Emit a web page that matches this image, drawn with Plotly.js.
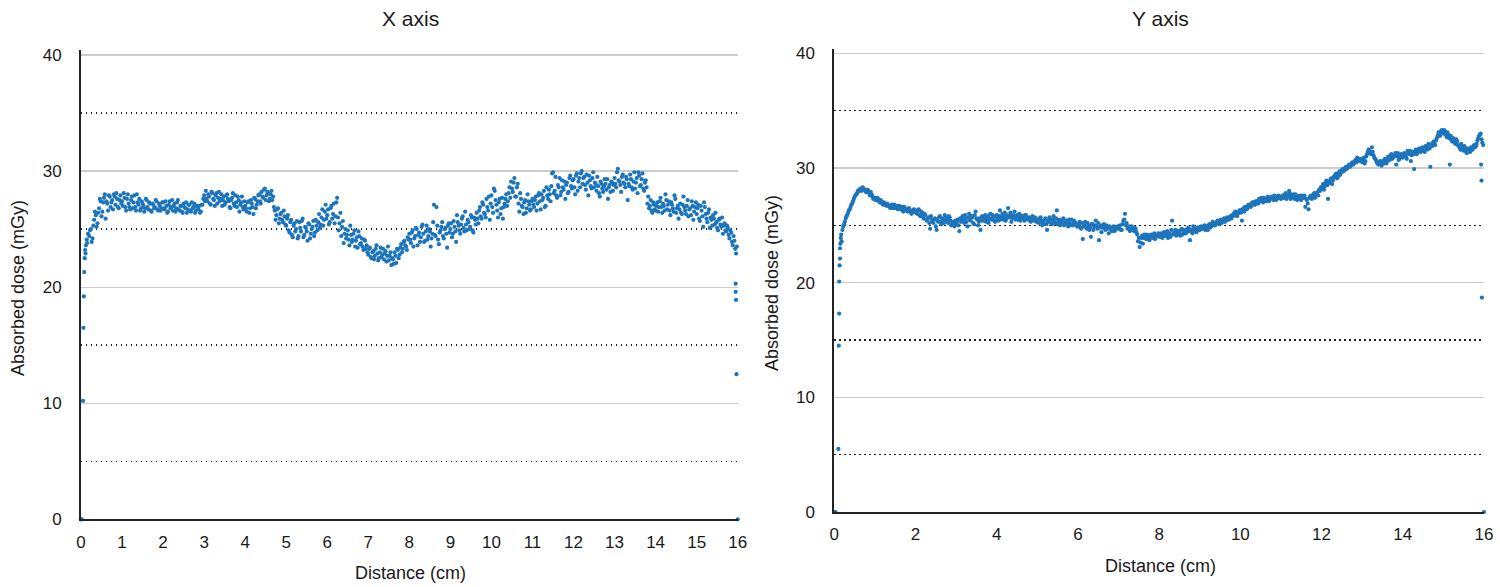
<!DOCTYPE html>
<html>
<head>
<meta charset="utf-8">
<script src="https://cdn.plot.ly/plotly-3.0.1.min.js"></script>
<style>
  html, body { margin: 0; padding: 0; background: #fff; }
  #chart { width: 1500px; height: 587px; }
</style>
</head>
<body>
<div id="chart"></div>
<script>
// sampling grid of the main profiles (cm); the second reading is offset by half a step
var startCm = 0.2;
var startCm2 = 0.22;
var stepCm = 0.04;

// X axis profile: steep build-up / fall-off points at the two edges
var xEdgeDist = [0, 0.02, 0.05, 0.06, 0.07, 0.08, 0.09, 0.1, 0.11, 0.12, 0.14, 0.15, 0.17,
                 15.95, 15.95, 15.96, 15.97, 16];
var xEdgeDose = [0, 0, 10.2, 16.5, 19.2, 21.3, 22.5, 23.2, 22.9, 23.6, 24.1, 23.8, 24.6,
                 20.3, 19.6, 18.9, 12.5, 0];

// X axis profile, 0.20 .. 15.96 cm every 0.04 cm
var xDose = [
  24.4, 25.0, 24.2, 25.8, 26.2, 25.5, 26.8, 27.4, 26.5, 27.7, 25.9, 27.2, 27.9, 26.9, 27.5, 28.0, 27.1, 27.6, 26.8, 27.9,
  27.4, 28.1, 26.9, 27.6, 27.2, 26.7, 27.8, 27.3, 26.9, 28.0, 27.1, 26.6, 27.4, 27.0, 26.8, 27.5, 26.7, 27.2, 26.5, 27.1, 26.9, 27.4, 26.6, 27.0, 26.8,
  27.3, 26.7, 27.0, 26.5, 27.4, 26.9, 26.6, 27.2, 26.8, 27.5, 26.6, 27.0, 26.4, 26.9, 27.3, 26.7, 27.1, 26.5, 26.8, 27.2, 26.6, 26.9, 27.0, 26.5, 27.1,
  27.9, 28.3, 27.4, 27.8, 27.1, 28.1, 27.5, 27.9, 27.2, 28.2, 27.6, 27.0, 27.8, 27.3, 28.0, 27.4, 26.8, 27.7, 27.2, 27.9, 26.9, 27.5, 27.1, 27.8, 26.7,
  27.0, 26.5, 27.4, 26.8, 27.2, 26.3, 27.6, 27.1, 27.9, 27.4, 28.2, 27.7, 28.5, 27.9, 28.1, 27.6, 28.3, 27.8, 26.6, 26.2, 26.8, 25.9, 26.4, 25.6, 26.1,
  25.3, 26.2, 24.7, 25.8, 24.3, 25.5, 25.0, 24.2, 25.6, 24.8, 25.9, 24.5, 25.1, 24.0, 25.4, 24.6, 25.2, 24.4, 25.8, 24.9, 26.3, 25.4, 26.7, 25.8, 27.1,
  26.2, 25.4, 26.8, 25.9, 27.2, 26.1, 27.7, 24.9, 26.4, 25.2, 23.8, 25.0, 24.5, 24.1, 25.3, 23.9, 24.6, 23.5, 24.3, 24.8, 23.7, 24.2, 23.2, 24.0, 23.6,
  22.8, 23.4, 22.5, 23.1, 22.7, 23.6, 22.3, 23.0, 22.6, 23.3, 22.9, 22.2, 23.5, 22.7, 21.9, 22.4, 23.0, 22.1, 23.2, 22.8, 23.7, 23.3, 24.0, 23.5, 24.3,
  24.6, 23.8, 24.9, 24.2, 25.1, 23.6, 24.7, 24.3, 25.4, 23.9, 24.8, 24.1, 25.0, 23.5, 24.6, 27.1, 24.4, 25.3, 23.7, 24.9, 25.6, 24.2, 25.1, 23.4, 25.5,
  25.0, 24.3, 25.7, 24.8, 26.2, 25.3, 24.6, 25.9, 25.1, 26.5, 24.9, 25.6, 25.2, 26.0, 24.7, 25.8, 26.4, 25.5, 26.9, 25.9, 27.1, 26.3, 27.6, 26.6, 25.8,
  27.9, 26.4, 28.3, 27.1, 26.0, 27.6, 26.8, 25.9, 27.2, 28.0, 27.4, 28.6, 29.1, 28.2, 29.4, 27.8, 28.9, 26.5, 27.6, 26.9, 27.3, 26.4, 28.0, 27.1, 26.7,
  27.6, 26.9, 27.8, 27.2, 28.1, 26.7, 27.5, 28.3, 27.0, 27.9, 28.4, 27.4, 29.8, 28.1, 29.5, 27.7, 28.6, 27.9, 29.2, 28.4, 27.6, 29.0, 28.2, 29.6, 28.5,
  29.3, 28.0, 29.8, 29.1, 28.6, 30.0, 29.4, 28.8, 29.7, 27.9, 29.2, 28.5, 29.9, 29.0, 28.3, 28.7, 27.8, 28.9, 28.2, 29.3, 28.4, 27.6, 28.8, 29.1, 28.3,
  29.4, 28.6, 30.2, 29.1, 28.2, 29.7, 28.9, 29.5, 27.5, 28.7, 29.3, 28.4, 29.9, 29.0, 28.1, 29.6, 28.8, 29.8, 28.3, 29.2, 27.2, 26.8, 27.5, 26.4, 27.1,
  26.6, 27.3, 26.9, 27.7, 26.4, 27.0, 28.0, 26.7, 27.4, 26.2, 27.1, 26.5, 27.6, 26.8, 25.9, 27.2, 26.3, 27.8, 26.6, 27.0, 26.1, 26.8, 27.4, 25.8, 26.9,
  26.3, 27.1, 25.7, 26.6, 25.2, 26.9, 25.9, 26.4, 25.1, 25.8, 26.2, 25.4, 25.6, 24.9, 25.9, 25.2, 24.6, 25.5, 24.8, 25.1, 24.2, 24.7, 23.6, 24.0, 22.9
];

// X axis profile, second reading, 0.22 .. 15.98 cm every 0.04 cm
var xDose2 = [
  24.9, 23.9, 25.3, 26.5, 25.2, 26.4, 27.6, 26.1, 27.3, 28.0, 27.4, 26.6, 27.8, 27.3, 26.7, 27.8, 28.1, 26.9, 27.5, 27.2,
  27.0, 27.7, 26.6, 28.0, 26.9, 27.5, 26.8, 27.9, 26.6, 27.3, 27.6, 26.8, 27.2, 26.5, 27.6, 26.9, 27.3, 26.6, 27.2, 26.8, 27.5, 26.7, 27.2, 26.6, 27.3,
  26.8, 27.4, 26.4, 27.1, 26.8, 27.5, 27.0, 26.5, 27.3, 26.7, 27.0, 26.5, 27.2, 26.8, 26.4, 27.1, 26.6, 27.3, 26.9, 26.4, 27.0, 26.7, 26.4, 27.1, 27.6,
  27.4, 27.6, 28.0, 27.2, 28.2, 27.6, 27.0, 28.1, 27.7, 27.4, 28.0, 27.5, 27.1, 27.9, 27.6, 26.9, 27.5, 28.1, 27.0, 27.3, 27.8, 26.5, 27.3, 26.9, 27.4,
  26.8, 27.3, 26.4, 27.5, 26.9, 27.7, 26.8, 27.4, 28.0, 27.2, 27.8, 28.4, 27.5, 28.2, 27.4, 28.0, 27.5, 26.9, 25.8, 26.7, 25.5, 26.3, 25.8, 26.6, 25.4,
  25.9, 24.9, 25.6, 24.5, 25.3, 24.8, 25.7, 24.4, 25.1, 25.7, 24.3, 25.2, 24.8, 25.5, 24.2, 25.0, 25.7, 24.7, 25.3, 25.6, 25.1, 26.0, 25.3, 26.5, 25.9,
  26.7, 25.6, 27.0, 26.3, 25.5, 27.3, 26.0, 25.5, 24.4, 25.7, 24.6, 24.2, 24.9, 23.6, 24.5, 24.1, 24.9, 24.0, 23.4, 24.4, 23.8, 23.5, 24.1, 23.3, 23.0,
  23.3, 22.6, 23.0, 22.4, 23.3, 22.9, 22.5, 23.4, 22.8, 22.4, 23.1, 22.7, 22.3, 23.0, 22.5, 22.0, 22.7, 23.3, 22.5, 23.4, 23.0, 23.9, 23.6, 23.2, 24.1,
  24.1, 24.7, 23.5, 24.4, 25.0, 24.5, 23.9, 25.2, 24.6, 24.0, 25.3, 24.4, 24.8, 24.2, 25.6, 24.5, 26.9, 24.1, 24.7, 25.2, 24.4, 25.0, 24.6, 25.3, 24.7,
  25.5, 24.6, 25.2, 23.9, 25.6, 24.9, 25.4, 26.1, 24.8, 25.4, 25.8, 25.0, 26.2, 24.9, 26.0, 25.4, 25.9, 26.6, 26.1, 27.3, 26.4, 26.0, 26.9, 27.8, 27.2,
  26.9, 28.5, 27.5, 26.6, 27.3, 26.3, 27.7, 26.9, 27.6, 27.0, 28.1, 27.7, 28.5, 29.0, 27.8, 28.6, 27.2, 28.1, 27.0, 26.3, 27.5, 26.8, 27.4, 26.6, 27.4,
  27.1, 27.5, 26.6, 27.9, 27.4, 28.0, 27.7, 26.9, 28.6, 27.6, 28.0, 28.7, 29.9, 28.3, 27.9, 28.8, 29.4, 28.2, 28.6, 29.1, 28.8, 28.1, 29.4, 28.7, 29.2,
  28.6, 29.6, 28.3, 29.4, 29.8, 28.9, 29.5, 28.4, 29.0, 29.6, 28.7, 29.4, 28.6, 28.9, 29.5, 28.1, 29.1, 28.5, 28.7, 28.9, 29.3, 28.6, 28.2, 29.0, 28.8,
  28.9, 29.9, 29.2, 28.8, 29.5, 29.0, 28.6, 29.3, 28.9, 29.7, 28.6, 29.1, 28.5, 29.4, 29.9, 28.7, 29.3, 28.5, 29.0, 28.6, 27.8, 27.0, 26.6, 27.3, 26.7,
  27.0, 26.5, 27.4, 26.9, 27.2, 26.6, 27.5, 27.1, 26.6, 27.3, 26.8, 27.9, 26.4, 27.0, 26.7, 26.4, 27.1, 26.9, 26.3, 27.5, 26.7, 26.2, 27.0, 26.5, 27.3,
  26.8, 25.9, 27.0, 26.1, 27.3, 26.3, 25.6, 26.7, 26.0, 25.3, 25.9, 26.4, 25.1, 25.8, 25.4, 26.0, 25.3, 24.9, 25.3, 24.5, 24.9, 23.9, 24.4, 23.3, 23.5
];

// Y axis profile: edge points
var yEdgeDist = [0, 0.03, 0.1, 0.11, 0.12, 0.12, 0.13, 0.14, 0.14, 0.15, 0.16, 0.17, 0.18,
                 15.93, 15.94, 15.95, 16];
var yEdgeDose = [0, 0, 5.5, 14.5, 17.3, 20.1, 21.5, 22.1, 23.0, 23.4, 23.9, 24.2, 23.6,
                 30.3, 28.9, 18.7, 0];

// Y axis profile, 0.20 .. 15.96 cm every 0.04 cm
var yDose = [
  24.6, 25.1, 25.6, 25.9, 26.3, 26.6, 26.9, 27.3, 27.6, 27.8, 28.0, 28.2, 28.1, 28.2, 28.0, 27.9, 28.0, 27.6, 27.7, 27.3,
  27.4, 27.2, 27.3, 27.0, 27.1, 26.8, 26.9, 26.7, 26.8, 26.6, 26.7, 26.5, 26.8, 26.6, 26.4, 26.7, 26.5, 26.3, 26.6, 26.4, 26.2, 26.5, 26.3, 26.1, 26.4,
  26.3, 26.0, 26.4, 25.8, 26.1, 25.6, 25.9, 25.4, 25.7, 24.7, 25.5, 25.2, 25.6, 24.6, 25.3, 25.8, 25.1, 25.5, 25.9, 25.4, 25.2, 25.7, 25.0, 25.3, 24.9,
  25.1, 25.5, 24.5, 25.3, 25.8, 25.2, 25.6, 24.9, 26.0, 25.4, 25.7, 25.1, 26.2, 25.5, 25.3, 24.6, 25.8, 25.4, 25.9, 25.6, 25.2, 26.0, 25.5, 25.7, 25.3,
  25.9, 25.4, 26.3, 25.7, 25.5, 26.1, 25.6, 26.5, 25.8, 25.3, 25.9, 26.2, 25.7, 25.5, 26.0, 25.6, 25.8, 25.4, 25.9, 25.5, 25.7, 25.3, 25.8, 25.4, 25.6,
  25.5, 25.2, 25.7, 25.0, 25.4, 25.6, 24.6, 25.3, 25.5, 25.1, 25.8, 25.2, 26.3, 25.4, 25.0, 25.3, 25.6, 25.1, 25.4, 24.9, 25.2, 25.5, 25.0, 25.3, 25.1,
  24.9, 25.3, 24.7, 23.8, 25.0, 24.8, 25.2, 24.6, 24.0, 25.1, 24.9, 25.4, 24.7, 23.7, 25.0, 24.8, 25.1, 24.6, 24.9, 24.3, 24.8, 24.5, 24.9, 24.6, 24.8,
  24.7, 25.0, 24.6, 25.4, 26.0, 25.2, 24.8, 24.5, 24.9, 24.6, 24.8, 24.4, 23.6, 23.1, 23.9, 23.4, 24.2, 23.8, 24.1, 23.7, 24.2, 23.9, 24.3, 24.0, 24.1,
  24.0, 24.3, 23.9, 24.4, 24.1, 24.5, 24.2, 24.0, 25.4, 24.3, 24.6, 24.2, 24.5, 24.1, 24.7, 24.3, 24.6, 24.4, 24.8, 23.7, 24.5, 24.9, 24.6, 24.4, 24.8,
  24.6, 24.9, 24.7, 25.0, 24.8, 24.6, 25.1, 24.9, 25.3, 25.0, 25.2, 25.4, 25.1, 25.5, 25.3, 25.6, 25.4, 25.7, 25.5, 25.8, 25.9, 26.0, 26.2, 25.8, 26.1,
  26.3, 25.4, 26.5, 26.6, 26.4, 26.8, 26.7, 26.9, 27.0, 26.8, 27.1, 26.9, 27.2, 27.4, 27.0, 27.3, 27.1, 27.5, 27.2, 27.4, 27.3, 27.6, 27.2, 27.4, 27.5,
  27.3, 27.6, 27.4, 27.8, 27.5, 28.0, 27.3, 27.6, 27.4, 27.7, 27.2, 27.5, 27.3, 27.6, 27.4, 26.6, 27.2, 26.4, 27.5, 27.3, 27.7, 27.4, 27.8, 27.6, 28.0,
  28.2, 28.6, 28.4, 28.9, 27.3, 28.7, 29.1, 28.9, 29.3, 29.5, 29.2, 29.7, 29.6, 29.9, 29.8, 30.1, 30.0, 30.3, 30.2, 30.5, 30.4, 30.7, 30.9, 30.6, 30.8,
  30.5, 30.9, 30.6, 31.2, 31.6, 31.3, 31.8, 31.1, 30.8, 30.5, 30.3, 30.6, 30.2, 30.5, 30.8, 30.4, 31.0, 30.7, 31.2, 30.9, 31.1, 30.3, 31.3, 30.8, 31.2,
  30.9, 31.3, 31.0, 31.5, 31.2, 30.6, 31.4, 29.9, 31.6, 31.3, 31.7, 31.4, 31.8, 31.5, 31.9, 31.6, 32.1, 30.1, 31.9, 32.3, 32.0, 32.6, 33.1, 32.8, 33.3,
  33.0, 33.2, 32.7, 32.9, 30.3, 32.4, 32.6, 32.2, 32.5, 32.0, 31.8, 32.1, 31.6, 31.9, 31.4, 31.7, 31.5, 31.8, 31.6, 32.0, 31.9, 32.4, 32.8, 33.0, 32.2
];

// Y axis profile, second reading, 0.22 .. 15.98 cm every 0.04 cm
var yDose2 = [
  24.9, 25.3, 25.8, 26.1, 26.4, 26.8, 27.1, 27.5, 27.7, 28.0, 28.1, 28.0, 28.3, 28.1, 27.9, 28.1, 27.8, 27.9, 27.5, 27.4,
  27.2, 27.4, 27.1, 27.2, 26.9, 27.0, 26.8, 26.9, 26.7, 26.5, 26.8, 26.6, 26.5, 26.7, 26.6, 26.4, 26.6, 26.2, 26.5, 26.3, 26.4, 26.2, 26.0, 26.3, 26.2,
  26.1, 26.3, 25.9, 26.2, 25.8, 26.0, 25.5, 25.6, 25.2, 25.8, 25.3, 25.5, 24.9, 25.4, 25.7, 25.3, 25.6, 25.2, 25.7, 25.5, 25.8, 25.4, 25.1, 25.2, 25.4,
  25.3, 25.0, 25.6, 25.4, 25.5, 25.9, 25.3, 25.7, 25.5, 25.8, 25.2, 25.9, 25.6, 25.0, 25.6, 25.4, 25.7, 25.6, 25.3, 25.8, 25.5, 25.6, 25.9, 25.4, 25.8,
  25.6, 25.8, 25.5, 26.0, 25.8, 25.4, 25.9, 25.7, 26.1, 25.6, 25.8, 25.5, 25.9, 25.7, 25.4, 25.8, 25.6, 25.9, 25.7, 25.6, 25.4, 25.6, 25.5, 25.7, 25.3,
  25.3, 25.6, 25.4, 25.2, 25.5, 25.1, 25.4, 25.7, 25.2, 25.5, 25.3, 25.6, 25.1, 25.5, 25.2, 25.4, 25.0, 25.3, 25.2, 25.5, 25.0, 25.1, 25.4, 25.2, 24.9,
  25.1, 24.8, 25.2, 24.9, 25.3, 24.7, 25.0, 24.8, 25.1, 24.6, 25.0, 24.9, 25.2, 24.8, 24.4, 24.9, 24.7, 25.0, 24.7, 24.9, 24.6, 24.8, 24.5, 24.7, 24.9,
  24.9, 24.6, 25.1, 25.5, 25.0, 24.7, 24.9, 24.6, 24.8, 24.5, 24.7, 24.2, 23.9, 23.5, 24.1, 23.9, 24.0, 24.2, 23.9, 24.1, 24.0, 24.2, 23.8, 24.1, 24.3,
  24.2, 24.0, 24.3, 24.1, 24.4, 23.9, 24.3, 24.6, 24.2, 24.4, 24.1, 24.5, 24.3, 24.6, 24.2, 24.5, 24.3, 24.7, 24.5, 24.6, 24.3, 24.7, 24.5, 24.8, 24.6,
  24.8, 24.7, 24.9, 24.6, 24.9, 25.0, 24.8, 25.1, 25.2, 25.0, 25.3, 25.2, 25.4, 25.2, 25.5, 25.3, 25.6, 25.5, 25.7, 25.6, 25.8, 26.1, 25.9, 26.0, 26.3,
  26.1, 26.4, 26.2, 26.6, 26.5, 26.7, 26.6, 27.0, 26.8, 27.1, 26.9, 27.3, 27.1, 27.2, 27.4, 27.2, 27.3, 27.1, 27.4, 27.5, 27.2, 27.5, 27.3, 27.6, 27.4,
  27.5, 27.4, 27.7, 27.3, 27.6, 27.8, 27.5, 27.7, 27.3, 27.5, 27.4, 27.6, 27.2, 27.4, 27.6, 27.3, 26.9, 27.4, 27.6, 27.5, 27.8, 27.6, 27.9, 28.1, 28.3,
  28.4, 28.1, 28.7, 28.5, 28.8, 29.0, 28.6, 29.2, 29.4, 29.1, 29.5, 29.4, 29.8, 29.7, 30.0, 29.9, 30.2, 30.1, 30.4, 30.3, 30.6, 30.5, 30.8, 30.7, 30.6,
  30.7, 30.4, 31.0, 31.4, 31.5, 31.2, 31.4, 30.9, 30.7, 30.4, 30.5, 30.3, 30.6, 30.4, 30.7, 30.6, 30.9, 31.1, 30.8, 31.0, 31.3, 31.0, 30.7, 31.1, 31.0,
  31.1, 31.2, 30.8, 31.3, 31.5, 31.1, 31.2, 31.4, 31.2, 31.6, 31.5, 31.7, 31.6, 31.4, 31.8, 32.0, 31.7, 32.0, 32.2, 32.1, 32.4, 32.8, 33.0, 33.2, 33.1,
  33.3, 32.9, 33.1, 32.6, 32.8, 32.3, 32.5, 32.1, 32.3, 31.9, 31.6, 31.9, 31.5, 31.7, 31.3, 31.6, 31.4, 31.7, 31.9, 31.8, 32.1, 32.6, 32.9, 32.5, 32.0
];

var dotColor = '#1c75bc';
var font = 'Liberation Sans, Arial, Helvetica, sans-serif';
var ink = '#1a1a1a';

function dots(xa, ya, extra) {
  var t = {
    mode: 'markers',
    type: 'scatter',
    xaxis: xa,
    yaxis: ya,
    cliponaxis: false,
    marker: { color: dotColor, size: 4.2 },
    hoverinfo: 'skip'
  };
  for (var k in extra) t[k] = extra[k];
  return t;
}

var data = [
  dots('x', 'y', { x0: startCm, dx: stepCm, y: xDose }),
  dots('x', 'y', { x0: startCm2, dx: stepCm, y: xDose2 }),
  dots('x', 'y', { x: xEdgeDist, y: xEdgeDose }),
  dots('x2', 'y2', { x0: startCm, dx: stepCm, y: yDose }),
  dots('x2', 'y2', { x0: startCm2, dx: stepCm, y: yDose2 }),
  dots('x2', 'y2', { x: yEdgeDist, y: yEdgeDose })
];

function xAxis(domain, anchor, dtick) {
  return {
    domain: domain,
    anchor: anchor,
    range: [0, 16],
    dtick: dtick,
    showgrid: false,
    zeroline: false,
    showline: true,
    linecolor: '#222',
    linewidth: 2,
    ticks: '',
    ticklabelstandoff: 6,
    tickfont: { family: font, size: 17, color: ink },
    fixedrange: true
  };
}

// y range runs a little past 40 so the 40 gridline is drawn
function yAxis(domain, anchor) {
  return {
    domain: domain,
    anchor: anchor,
    range: [0, 40.4],
    tickvals: [0, 10, 20, 30, 40],
    showgrid: true,
    gridcolor: '#cccccc',
    gridwidth: 1.2,
    zeroline: false,
    showline: true,
    linecolor: '#222',
    linewidth: 2,
    ticks: '',
    ticklabelstandoff: 14,
    tickfont: { family: font, size: 17, color: ink },
    minor: {
      tickvals: [5, 15, 25, 35],
      showgrid: true,
      gridcolor: '#222222',
      gridwidth: 1.5,
      griddash: '1.4px,3.6px'
    },
    fixedrange: true
  };
}

function label(text, x, y, size, angle) {
  return {
    text: text,
    xref: 'paper', yref: 'paper',
    x: x, y: y,
    xanchor: 'center', yanchor: 'middle',
    showarrow: false,
    textangle: angle || 0,
    font: { family: font, size: size, color: ink }
  };
}

var layout = {
  width: 1500,
  height: 587,
  margin: { l: 0, r: 0, t: 0, b: 0 },
  paper_bgcolor: '#ffffff',
  plot_bgcolor: '#ffffff',
  showlegend: false,
  xaxis: xAxis([0.054, 0.4918], 'y', 1),
  yaxis: yAxis([0.1153, 0.9142], 'x'),
  xaxis2: xAxis([0.5562, 0.9893], 'y2', 2),
  yaxis2: yAxis([0.1278, 0.9170], 'x2'),
  annotations: [
    label('X axis', 410 / 1500, 1 - 18 / 587, 21),
    label('Y axis', 1160 / 1500, 1 - 18 / 587, 21),
    label('Distance (cm)', 410 / 1500, 1 - 573 / 587, 18),
    label('Distance (cm)', 1160 / 1500, 1 - 566 / 587, 18),
    label('Absorbed dose (mGy)', 18 / 1500, 1 - 288 / 587, 18, -90),
    label('Absorbed dose (mGy)', 772 / 1500, 1 - 283 / 587, 18, -90)
  ]
};

Plotly.newPlot('chart', data, layout, { displayModeBar: false, staticPlot: true });
</script>
</body>
</html>
